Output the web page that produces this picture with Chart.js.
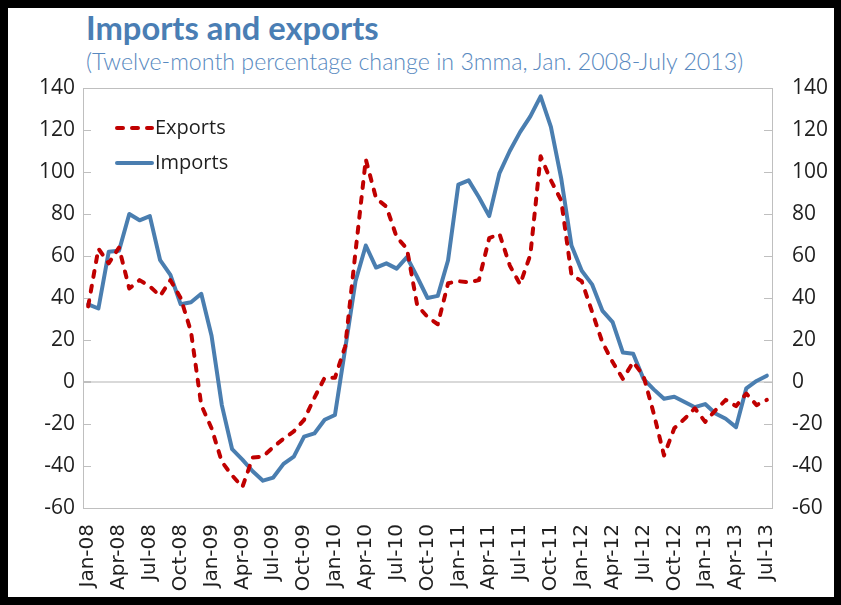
<!DOCTYPE html>
<html>
<head>
<meta charset="utf-8">
<script src="https://cdn.jsdelivr.net/npm/chart.js@4.4.0/dist/chart.umd.min.js"></script>
<style>
    html, body { margin: 0; padding: 0; }
    body { width: 841px; height: 605px; background: #000; position: relative; overflow: hidden; }
    #frame { position: absolute; left: 8px; top: 8px; width: 826px; height: 589px; background: #fff; }
    #title { position: absolute; left: 86px; top: 8px; font: bold 32.7px Lato; color: #4a7eb4; white-space: nowrap; }
    #subtitle { position: absolute; left: 86px; top: 47px; font: 300 23.2px Lato; color: #5889c0; white-space: nowrap; }
    #chart { position: absolute; left: 0; top: 0; }
</style>
</head>
<body>
<div id="frame"></div>
<div id="title">Imports and exports</div>
<div id="subtitle">(Twelve-month percentage change in 3mma, Jan. 2008-July 2013)</div>
<canvas id="chart" width="841" height="605"></canvas>
<script>
// monthly, Jan 2008 - Jul 2013
const MONTHS = ['Jan','Feb','Mar','Apr','May','Jun','Jul','Aug','Sep','Oct','Nov','Dec'];
const YEARS = ['08','09','10','11','12','13'];

const exportsData = [36, 63.5, 56.5, 64, 44.5, 48.5, 45.5, 41, 48.5, 40, 24, -11,
    -22, -38, -44.5, -50, -36, -35.5, -31, -27, -23.5, -18, -7.5, 2,
    2, 17, 62, 106, 87.5, 83.5, 69, 63.5, 36.5, 31, 27.5, 47,
    48, 47.5, 48.5, 68.5, 70.5, 55.5, 46.5, 60.5, 107.5, 96, 86.5, 51,
    48, 33.5, 19, 9.5, 1.5, 9.5, 3, -15, -35, -22, -17.5, -12.5,
    -19, -13.5, -8.5, -11.5, -5.5, -11, -8.5];

const importsData = [37, 35, 62, 62.5, 80, 77, 79, 58, 51, 37, 38, 42,
    22, -11, -32, -37, -42.5, -47, -45.5, -39, -35.5, -26, -24.5, -18,
    -15.7, 16, 48, 65, 54.5, 56.5, 54, 59.5, 50, 40, 41, 58,
    94, 96, 88, 79, 99.5, 110, 119, 126.5, 136, 121.5, 97, 65,
    53, 46.5, 34, 28.5, 14, 13.5, 1.5, -3.5, -8, -7, -9.5, -12,
    -10.5, -15, -17.5, -21.5, -3, 0.5, 3];

let labels = [];
YEARS.forEach(function(y){
    MONTHS.forEach(function(m){
        if (labels.length < exportsData.length) labels.push(m + '-' + y);
    });
});

const AXIS_GREY = '#bfbfbf';
const TEXT_COLOR = '#1f1f1f';

function gridColor(v){
    if (v === 0) return '#d9d9d9';
    if (v === 140 || v === -60) return AXIS_GREY;
    return 'rgba(0,0,0,0)';
}

// legend sits inside the plot, so draw it ourselves
const insideLegend = {
    id: 'insideLegend',
    afterDraw(chart){
        const ctx = chart.ctx;
        const x0 = chart.chartArea.left + 34;
        chart.data.datasets.forEach(function(ds, i){
            const y = chart.chartArea.top + 40 + i * 35;
            ctx.save();
            ctx.strokeStyle = ds.borderColor;
            ctx.lineWidth = ds.borderWidth;
            ctx.lineCap = 'round';
            ctx.setLineDash(ds.borderDash || []);
            ctx.beginPath();
            ctx.moveTo(x0, y);
            ctx.lineTo(x0 + 35, y);
            ctx.stroke();
            ctx.setLineDash([]);
            ctx.fillStyle = TEXT_COLOR;
            ctx.font = '20px "Open Sans"';
            ctx.textBaseline = 'middle';
            ctx.fillText(ds.label, x0 + 38, y);
            ctx.restore();
        });
    }
};

window.onload = function(){
    let ctx = document.getElementById('chart').getContext('2d');
    window.IEChart = new Chart(ctx, {
        type: 'line',
        data: {
            labels: labels,
            datasets: [
            {
                label: 'Exports',
                data: exportsData,
                borderColor: '#c00000',
                borderWidth: 4,
                borderDash: [6, 9],
                borderCapStyle: 'round',
                borderJoinStyle: 'round',
                pointRadius: 0,
                tension: 0,
            },
            {
                label: 'Imports',
                data: importsData,
                borderColor: '#4a7eb0',
                borderWidth: 4,
                borderCapStyle: 'round',
                borderJoinStyle: 'round',
                pointRadius: 0,
                tension: 0,
            }]
        },
        options: {
            responsive: false,
            animation: false,
            layout: { padding: { top: 88, left: 0, right: 0, bottom: 0 } },
            plugins: {
                legend: { display: false },
                tooltip: { enabled: false }
            },
            scales: {
                x: {
                    offset: true,
                    grid: { display: false, drawTicks: false },
                    border: { display: false },
                    ticks: {
                        autoSkip: false,
                        maxRotation: 90,
                        minRotation: 90,
                        padding: 16,
                        color: TEXT_COLOR,
                        font: { family: 'DejaVu Sans', size: 20 },
                        callback: function(value, index){
                            return index % 3 === 0 ? this.getLabelForValue(value) : null;
                        }
                    },
                    afterFit: function(s){ s.height = 97; }
                },
                y: {
                    position: 'left',
                    min: -60,
                    max: 140,
                    ticks: {
                        stepSize: 20,
                        padding: 16,
                        color: TEXT_COLOR,
                        font: { family: 'Open Sans', size: 21 }
                    },
                    grid: {
                        color: function(c){ return gridColor(c.tick.value); },
                        lineWidth: function(c){ return c.tick.value === 0 ? 2 : 1; },
                        tickLength: -8,
                        tickColor: AXIS_GREY
                    },
                    border: { color: AXIS_GREY },
                    afterFit: function(s){ s.width = 83; }
                },
                y2: {
                    position: 'right',
                    min: -60,
                    max: 140,
                    ticks: {
                        stepSize: 20,
                        padding: 28,
                        color: TEXT_COLOR,
                        font: { family: 'Open Sans', size: 21 }
                    },
                    grid: {
                        drawOnChartArea: false,
                        tickLength: -8,
                        tickColor: AXIS_GREY
                    },
                    border: { color: AXIS_GREY },
                    afterFit: function(s){ s.width = 69; }
                }
            }
        },
        plugins: [insideLegend]
    });
};
</script>
</body>
</html>
